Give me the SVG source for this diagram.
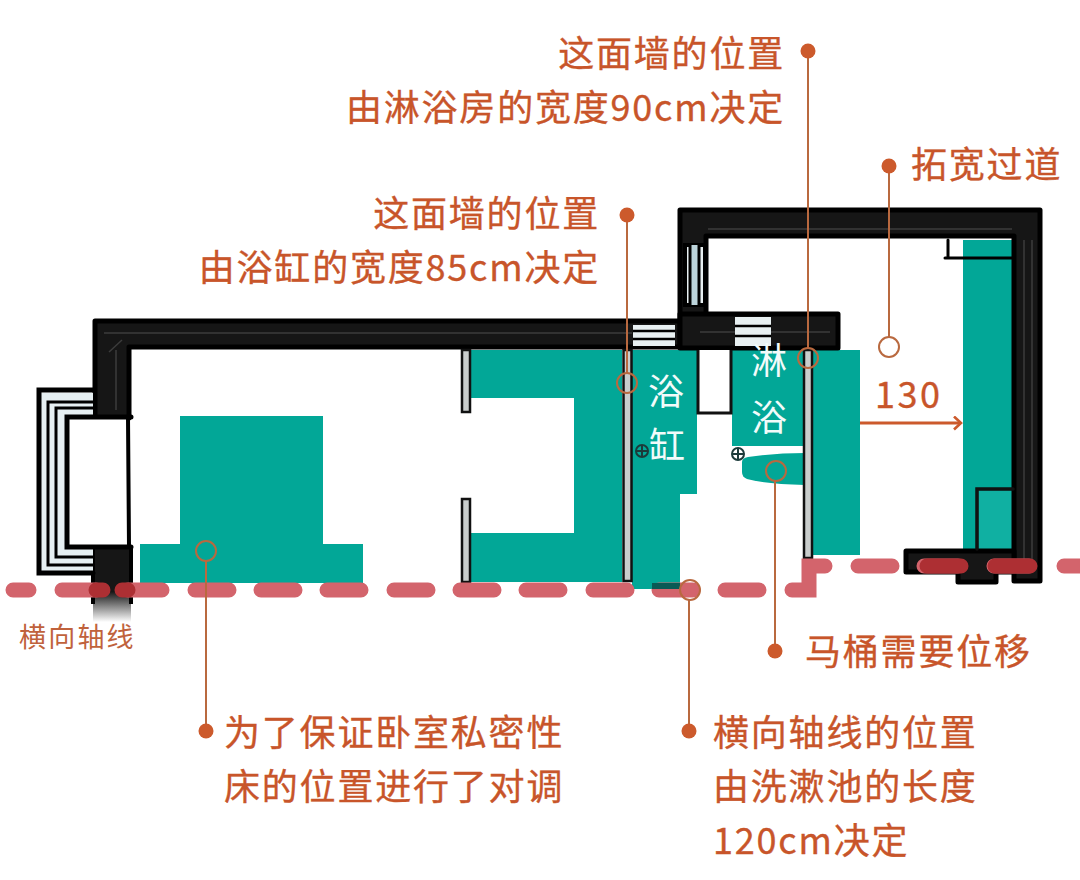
<svg xmlns="http://www.w3.org/2000/svg" width="1080" height="880" viewBox="0 0 1080 880">
<style>
text{font-family:"Noto Sans CJK SC","Noto Sans",sans-serif}
.t{fill:#c8552a;font-size:36px;letter-spacing:1.800px;font-weight:400;stroke:#c8552a;stroke-width:.35px}
.e{text-anchor:end}
.w{fill:#f2fbfa;font-size:36px;text-anchor:middle;font-weight:400}
.teal{fill:#02a797}
.wall{fill:#161616;stroke:#000;stroke-width:5;stroke-linejoin:round}
.in{fill:none;stroke:#3c3c3c;stroke-width:1.5}
.glass{fill:#e8f0f2;stroke:#000;stroke-width:4}
.bar{fill:#c9cdcc;stroke:#111;stroke-width:2.5}
.k{fill:none;stroke:#000;stroke-width:4;stroke-linecap:round}
.c{fill:none;stroke:#b9693f;stroke-width:2}
.d{fill:#cc5a2c}
.l{stroke:#b9693f;stroke-width:2;fill:none}
.dash{stroke:#d3646c;stroke-width:15;stroke-linecap:round;fill:none}
.dark{stroke:#ad2f33;stroke-width:15;stroke-linecap:round;fill:none}
</style>
<defs>
<linearGradient id="fade" x1="0" y1="0" x2="0" y2="1"><stop offset="0" stop-color="#161616"/><stop offset=".6" stop-color="#161616"/><stop offset="1" stop-color="#161616" stop-opacity="0"/></linearGradient>
<marker id="arr" markerWidth="12" markerHeight="16" refX="10" refY="7" orient="auto" markerUnits="userSpaceOnUse"><path d="M3 0.5L10 7L3 13.5" fill="none" stroke="#cc5a2c" stroke-width="2.6"/></marker>
</defs>
<rect width="1080" height="880" fill="#fff"/>

<g id="furniture">
<path id="bed" class="teal" d="M180 416H323V544H363V583H140V544H180Z"/>
<path id="wardrobe" class="teal" d="M471 350H622V582H471V533H574V398H471Z"/>
<path id="bathtub" class="teal" d="M632 350H697V494H680V589H632Z"/>
<rect id="shower" class="teal" x="732" y="350" width="72" height="96"/>
<path id="toilet" class="teal" d="M742 462Q742 458 748 457Q775 453 805 453V485Q765 484 747 479Q742 477 742 472Z"/>
<rect id="sink-wall" class="teal" x="813" y="350" width="47" height="205"/>
<rect id="closet" class="teal" x="963" y="240" width="50" height="309"/>
<rect id="closet-in" x="979" y="491" width="33" height="58" fill="#10b0a2"/>
</g>

<g id="walls">
<path class="wall" d="M95 321H680V347H129V418H95Z"/>
<path d="M93 546H131V622H93Z" fill="url(#fade)"/>
<path d="M93 546V604M131 546V604" stroke="#000" stroke-width="4"/>
<path class="wall" d="M680 210H1040V581H1014V236H706V322H680Z"/>
<path class="wall" d="M680 314H838V348H680Z"/>
<path class="wall" d="M906 551H1014V572H996V582H958V572H906Z"/>
<path class="in" d="M104 333H632M116 350V410M109 352L122 340M708 229H1012M1024 240V570M1032 240V570M700 332H830"/>
<rect class="glass" x="685" y="245" width="20" height="60" stroke="none"/>
<rect x="691" y="245" width="7" height="60" fill="#bcd4da"/>
<path d="M690 245V305M699 245V305" stroke="#000" stroke-width="3"/>
<rect x="735" y="317" width="36" height="29" fill="#e8f0f2"/>
<path d="M735 326H771M735 336H771" stroke="#000" stroke-width="2.500"/>
<rect x="633" y="325" width="42" height="21" fill="#e8f0f2"/>
<path d="M633 331H675M633 339H675" stroke="#000" stroke-width="2.500"/>
</g>

<g id="window">
<path d="M93 393H41V571H93V548H67V417H93Z" fill="#e6eff2"/>
<path class="k" d="M93 390H39V573H93" style="stroke-width:5"/>
<path class="k" d="M93 402H48V565H93M93 408H56V557H93" style="stroke-width:3"/>
<rect x="67" y="418" width="60" height="128" fill="#fff"/>
<path d="M131 417H67V547H131" class="k" style="stroke-width:5"/>
<path d="M128 417L129 547" class="k" style="stroke-width:4"/>
</g>

<g id="partitions">
<rect class="bar" x="462" y="350" width="8" height="62" stroke="none"/>
<rect class="bar" x="462" y="499" width="8" height="83" stroke="none"/>
<rect class="bar" x="623.500" y="350" width="8" height="231"/>
<rect class="bar" x="804" y="350" width="8" height="208"/>
<path d="M698 350V413H731V350" fill="#fff" stroke="#111" stroke-width="3"/>
<path d="M948 240V258H1013M963 258H945" class="k" style="stroke-width:3"/>
<path d="M977 549V489H1013" class="k" style="stroke:#111;stroke-width:3.500"/>
<g fill="none" stroke="#1c3a3a" stroke-width="2"><circle cx="642" cy="451" r="6"/><path d="M636 451H648M642 445V457"/><circle cx="738" cy="454" r="6"/><path d="M732 454H744M738 448V460"/></g>
</g>

<g id="axis">
<path class="dash" d="M13 590H29M62 590H96M128 590H162M195 590H229M261 590H295M327 590H361M394 590H428M460 590H494M526 590H560M593 590H627M659 590H693M725 590H759M792 590H809V566H825M858 566H892M924 566H958M994 566H1029M1064 566H1090"/>
<path class="dark" d="M96 590H103M122 590H128M927 566H961M995 566H1030"/>
<path d="M652 583H680V589H652Z" fill="#0a5a55"/>
</g>

<g id="connectors">
<path class="l" d="M627 215V373"/>
<path class="l" d="M808 51V348"/>
<path class="l" d="M889 166V337"/>
<path class="l" d="M775 651V481"/>
<path class="l" d="M689 731V600"/>
<path class="l" d="M206 731V561"/>
<path d="M860 423H961" stroke="#cc5a2c" stroke-width="3" fill="none" marker-end="url(#arr)"/>
</g>

<g id="markers">
<circle class="c" cx="627" cy="383" r="10"/><circle class="c" cx="808" cy="358" r="10"/><circle class="c" cx="889" cy="347" r="10"/><circle class="c" cx="776" cy="471" r="10"/><circle class="c" cx="690" cy="590" r="10"/><circle class="c" cx="206" cy="551" r="10"/>
<circle class="d" cx="627" cy="215" r="7.500"/><circle class="d" cx="808" cy="51" r="7.500"/><circle class="d" cx="889" cy="166" r="7.500"/><circle class="d" cx="775" cy="651" r="7.500"/><circle class="d" cx="689" cy="731" r="7.500"/><circle class="d" cx="206" cy="731" r="7.500"/>
</g>

<g id="labels">
<text class="w" x="666" y="405">浴</text><text class="w" x="667" y="459">缸</text>
<text class="w" x="769" y="374">淋</text><text class="w" x="769" y="431">浴</text>
<text class="t e" x="785" y="67">这面墙的位置</text>
<text class="t e" x="785" y="121">由淋浴房的宽度90cm决定</text>
<text class="t" x="911" y="178">拓宽过道</text>
<text class="t e" x="600" y="227">这面墙的位置</text>
<text class="t e" x="600" y="281">由浴缸的宽度85cm决定</text>
<text class="t" x="875" y="408" style="letter-spacing:2.500px">130</text>
<text x="19" y="647" style="font-size:27px;fill:#c0623c;letter-spacing:2.200px">横向轴线</text>
<text class="t" x="805" y="665">马桶需要位移</text>
<text class="t" x="224" y="746">为了保证卧室私密性</text>
<text class="t" x="224" y="800">床的位置进行了对调</text>
<text class="t" x="713" y="746">横向轴线的位置</text>
<text class="t" x="713" y="800">由洗漱池的长度</text>
<text class="t" x="713" y="854">120cm决定</text>
</g>
</svg>
